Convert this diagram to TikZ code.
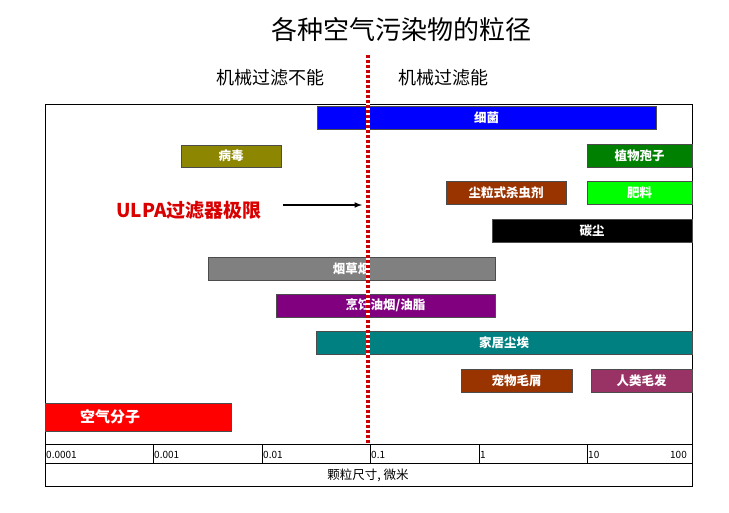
\documentclass[tikz,border=0pt]{standalone}
\usepackage{fontspec}
\setmainfont{Noto Sans CJK SC}
\definecolor{brn}{HTML}{993300}
\definecolor{hair}{HTML}{993366}
\definecolor{purp}{HTML}{800080}
\begin{document}
\begin{tikzpicture}[x=1pt,y=-1pt,
 bar/.style={inner sep=0pt,font=\fontsize{12.5}{12.5}\selectfont\bfseries,text=white},
 tick/.style={anchor=west,font=\fontsize{10}{10}\selectfont,inner sep=1pt}]
\useasboundingbox (0,0) rectangle (729,512);
\newcommand{\barbox}[7]{\fill[#6,draw=black!70,line width=0.6pt] (#1,#3) rectangle (#2,#4);
 \node[bar] (#7) at ({(#1+#2)/2},{(#3+#4)/2}) {#5};}
\node (title) at (401,30) {\fontsize{26}{26}\selectfont 各种空气污染物的粒径};
\node (cannot) at (270,78) {\fontsize{18}{18}\selectfont 机械过滤不能};
\node (can) at (443,78) {\fontsize{18}{18}\selectfont 机械过滤能};
\draw[line width=0.8pt] (45,104) rectangle (692,486);
\draw[line width=0.8pt] (45,444) -- (692,444) (45,463) -- (692,463);
\foreach \x/\t in {45/0.0001,153/0.001,262/0.01,370/0.1,479/1,587/10}{
 \draw[line width=0.8pt] (\x,444) -- (\x,463);
 \node[tick] at (\x,455) {\t};}
\node[tick,anchor=east] (t100) at (688,455) {100};
\node (axlabel) at (368,475) {\fontsize{12.5}{12.5}\selectfont 颗粒尺寸, 微米};
\barbox{317}{656}{106}{129}{细菌}{blue}{b1}
\barbox{181}{281}{145}{167}{病毒}{olive}{b2}
\barbox{587}{692}{144}{167}{植物孢子}{green!50!black}{b3}
\barbox{446}{566}{181}{204}{尘粒式杀虫剂}{brn}{b4}
\barbox{587}{692}{181}{204}{肥料}{green}{b5}
\barbox{492}{692}{219}{242}{碳尘}{black}{b6}
\barbox{208}{495}{257}{280}{烟草烟}{gray}{b7}
\barbox{276}{495}{294}{317}{烹饪油烟/油脂}{purp}{b8}
\barbox{316}{692}{331}{354}{家居尘埃}{teal}{b9}
\barbox{461}{572}{369}{392}{宠物毛屑}{brn}{b10}
\barbox{591}{692}{369}{392}{人类毛发}{hair}{b11}
\fill[red,draw=black!70,line width=0.6pt] (45,403) rectangle (231,431);
\node[bar,font=\fontsize{15}{15}\selectfont\bfseries] (air) at (110,417) {空气分子};
\node[text=red!85!black,font=\fontsize{19}{19}\selectfont\bfseries] (ulpa) at (189,210) {ULPA过滤器极限};
\coordinate (lim) at (362,205);
\draw[line width=1.5pt,-latex] (283,205) -- (lim);
\draw[line width=4pt,white] (368,55) -- (368,444);
\draw[line width=4pt,red!80!black,dash pattern=on 2.5pt off 2.5pt] (368,55) -- (368,444);
\end{tikzpicture}
\end{document}
